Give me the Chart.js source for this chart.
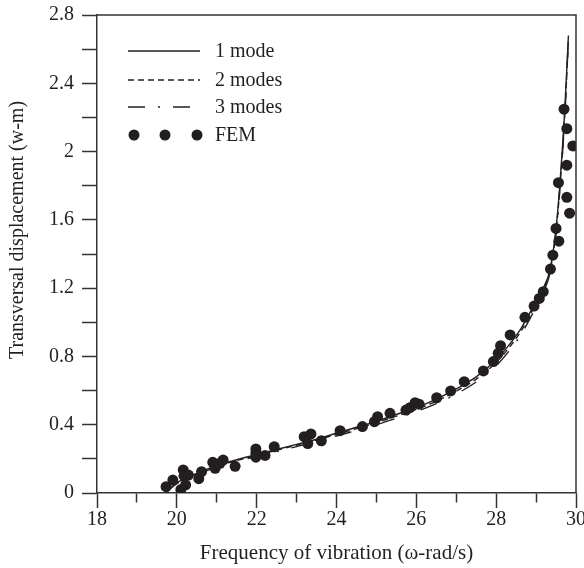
<!DOCTYPE html>
<html>
<head>
<meta charset="utf-8">
<script src="https://cdn.jsdelivr.net/npm/chart.js@4/dist/chart.umd.min.js"></script>
<style>
  html, body { margin: 0; padding: 0; background: #fff; }
  #wrap { width: 584px; height: 568px; }
</style>
</head>
<body>
<div id="wrap"><canvas id="c" width="584" height="568"></canvas></div>
<script>
// ---- data ----
const freq  = [19.72, 19.85, 20, 20.25, 20.5, 21, 21.5, 22, 22.5, 23, 23.5, 24, 24.5, 25, 25.5, 26, 26.5, 27, 27.5, 28, 28.3, 28.6, 28.9, 29.1, 29.2, 29.35, 29.5, 29.6, 29.72, 29.81];
const mode1 = [0, 0.03, 0.06, 0.09, 0.115, 0.16, 0.195, 0.225, 0.255, 0.285, 0.315, 0.35, 0.385, 0.42, 0.46, 0.5, 0.55, 0.61, 0.68, 0.78, 0.86, 0.955, 1.08, 1.17, 1.21, 1.31, 1.55, 1.82, 2.25, 2.68];
const mode2 = [0, 0.03, 0.058, 0.088, 0.112, 0.157, 0.19, 0.22, 0.25, 0.28, 0.31, 0.343, 0.377, 0.412, 0.45, 0.49, 0.538, 0.597, 0.667, 0.765, 0.845, 0.94, 1.065, 1.155, 1.2, 1.3, 1.53, 1.8, 2.22, 2.66];
const mode3 = [0, 0.028, 0.055, 0.084, 0.108, 0.152, 0.185, 0.214, 0.243, 0.272, 0.302, 0.334, 0.367, 0.4, 0.438, 0.477, 0.523, 0.58, 0.65, 0.745, 0.825, 0.92, 1.045, 1.14, 1.185, 1.29, 1.52, 1.79, 2.21, 2.66];
const femX = [19.73, 19.9, 20.1, 20.16, 20.22, 20.18, 20.29, 20.55, 20.62, 20.9, 20.96, 21.08, 21.16, 21.46, 21.98, 21.98, 21.98, 22.21, 22.44, 23.19, 23.36, 23.28, 23.62, 24.09, 24.65, 24.95, 25.03, 25.34, 25.74, 25.84, 25.97, 26.07, 26.51, 26.86, 27.2, 27.68, 27.93, 28.05, 28.11, 28.35, 28.72, 28.95, 29.08, 29.18, 29.36, 29.42, 29.57, 29.5, 29.84, 29.77, 29.56, 29.77, 29.92, 29.77, 29.7];
const femY = [0.037, 0.076, 0.02, 0.135, 0.047, 0.1, 0.105, 0.084, 0.125, 0.18, 0.145, 0.174, 0.193, 0.156, 0.258, 0.233, 0.21, 0.22, 0.271, 0.33, 0.346, 0.29, 0.306, 0.365, 0.389, 0.418, 0.447, 0.467, 0.486, 0.5, 0.529, 0.52, 0.558, 0.598, 0.652, 0.715, 0.77, 0.818, 0.863, 0.926, 1.029, 1.095, 1.14, 1.179, 1.312, 1.393, 1.475, 1.55, 1.639, 1.732, 1.818, 1.92, 2.033, 2.134, 2.248];
const seriesNames = ['1 mode', '2 modes', '3 modes', 'FEM'];
const xTitle = 'Frequency of vibration (\u03c9-rad/s)';
const yTitle = 'Transversal displacement (w-m)';
const xMin = 18, xMax = 30, yMin = 0, yMax = 2.8;

// ---- styling ----
const INK = '#231f20';
const FONT = '"Liberation Serif", "Times New Roman", serif';
const dashes = [[], [6, 4], [17, 13, 2, 13]];

const pts = (xs, ys) => xs.map((x, i) => ({ x: x, y: ys[i] }));

const frameAndLegend = {
  id: 'frameAndLegend',
  afterDraw(chart) {
    const ctx = chart.ctx, a = chart.chartArea;
    ctx.save();
    // top and right frame lines
    ctx.strokeStyle = '#333';
    ctx.lineWidth = 1.5;
    ctx.beginPath();
    ctx.moveTo(a.left, a.top);
    ctx.lineTo(a.right, a.top);
    ctx.lineTo(a.right, a.bottom);
    ctx.stroke();

    // y-axis title
    ctx.fillStyle = INK;
    ctx.font = '20px ' + FONT;
    ctx.textAlign = 'center';
    ctx.textBaseline = 'middle';
    ctx.translate(18, 230);
    ctx.rotate(-Math.PI / 2);
    ctx.fillText(yTitle, 0, 0);
    ctx.restore();

    // legend
    ctx.save();
    const rows = [51, 80, 107, 135];
    const x0 = 128, x1 = 200, tx = 215;
    ctx.font = '20px ' + FONT;
    ctx.textBaseline = 'middle';
    ctx.textAlign = 'left';
    ctx.fillStyle = INK;
    for (let i = 0; i < 4; i++) {
      const y = rows[i];
      if (i < 3) {
        ctx.strokeStyle = INK;
        ctx.lineWidth = 1.4;
        ctx.setLineDash(dashes[i]);
        ctx.beginPath();
        ctx.moveTo(x0, y);
        ctx.lineTo(x1, y);
        ctx.stroke();
        ctx.setLineDash([]);
      } else {
        [134, 165, 197].forEach(cx => {
          ctx.beginPath();
          ctx.arc(cx, y, 5.5, 0, Math.PI * 2);
          ctx.fill();
        });
      }
      ctx.fillText(seriesNames[i], tx, y + 1);
    }
    ctx.restore();
  }
};

const lineDs = (label, ys, dash) => ({
  label: label,
  data: pts(freq, ys),
  showLine: true,
  borderColor: INK,
  borderWidth: 1.4,
  borderDash: dash,
  pointRadius: 0,
  fill: false,
  cubicInterpolationMode: 'monotone'
});

new Chart(document.getElementById('c'), {
  type: 'scatter',
  data: {
    datasets: [
      {
        label: seriesNames[3],
        data: pts(femX, femY),
        pointRadius: 5.5,
        pointBackgroundColor: INK,
        pointBorderColor: INK,
        pointBorderWidth: 0,
        showLine: false
      },
      lineDs(seriesNames[0], mode1, dashes[0]),
      lineDs(seriesNames[1], mode2, dashes[1]),
      lineDs(seriesNames[2], mode3, dashes[2])
    ]
  },
  options: {
    responsive: false,
    animation: false,
    devicePixelRatio: 1,
    layout: { padding: { left: 0, right: 8, top: 15, bottom: 0 } },
    plugins: { legend: { display: false }, tooltip: { enabled: false } },
    scales: {
      x: {
        type: 'linear',
        min: xMin, max: xMax,
        border: { color: '#333', width: 1.5 },
        grid: {
          display: true,
          drawOnChartArea: false,
          drawTicks: true,
          tickLength: 15,
          tickColor: '#333',
          tickWidth: 1.5,
          tickBorderDash: (c) => (c.tick && Math.round(c.tick.value) % 2 !== 0) ? [9, 60] : []
        },
        ticks: {
          stepSize: 1,
          autoSkip: false,
          maxRotation: 0,
          padding: 0,
          color: INK,
          font: { family: FONT, size: 20 },
          callback: (v) => (Math.round(v) % 2 === 0 ? String(Math.round(v)) : '')
        },
        title: {
          display: true,
          text: xTitle,
          color: INK,
          font: { family: FONT, size: 21 },
          padding: { top: 0, bottom: 2 }
        },
        afterFit: (s) => { s.height = 75; s.paddingLeft = 0; s.paddingRight = 0; }
      },
      y: {
        type: 'linear',
        min: yMin, max: yMax,
        border: { color: '#333', width: 1.5 },
        grid: {
          display: true,
          drawOnChartArea: false,
          drawTicks: true,
          tickLength: 15,
          tickColor: '#333',
          tickWidth: 1.5
        },
        ticks: {
          stepSize: 0.2,
          autoSkip: false,
          padding: 8,
          color: INK,
          font: { family: FONT, size: 20 },
          callback: (v) => {
            const t = Math.round(v * 10);
            return t % 4 === 0 ? String(t / 10) : '';
          }
        },
        afterFit: (s) => { s.width = 97; s.paddingTop = 0; s.paddingBottom = 0; }
      }
    }
  },
  plugins: [frameAndLegend]
});
</script>
</body>
</html>
